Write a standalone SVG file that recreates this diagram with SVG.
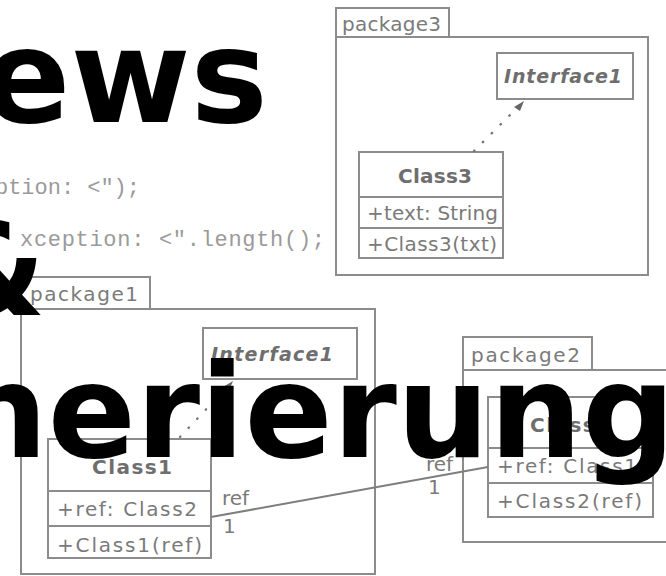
<svg xmlns="http://www.w3.org/2000/svg" width="666" height="576" viewBox="0 0 666 576">
<defs>
<style>
.box{fill:none;stroke:#8c8c8c;stroke-width:2}
.lbl{font-family:"DejaVu Sans",Verdana,sans-serif;font-size:20px;fill:#7a7a7a}
.cls{font-family:"DejaVu Sans",Verdana,sans-serif;font-size:20px;font-weight:bold;fill:#6e6e6e}
.itf{font-family:"DejaVu Sans",Verdana,sans-serif;font-size:19px;font-weight:bold;font-style:italic;fill:#6e6e6e}
.code{font-family:"Liberation Mono","Courier New",monospace;font-size:22px;fill:#9a9a9a}
.dot{fill:none;stroke:#777;stroke-width:2.4;stroke-linecap:round;stroke-dasharray:0.5 12}
.assoc{fill:none;stroke:#7e7e7e;stroke-width:2}
.big{font-family:"DejaVu Sans",Verdana,sans-serif;font-size:130px;font-weight:bold;fill:#000}
</style>
</defs>
<rect width="666" height="576" fill="#fff"/>

<g id="code">
<text class="code" x="-5" y="194" textLength="145">ption: &lt;");</text>
<text class="code" x="20" y="246" textLength="305">xception: &lt;".length();</text>
</g>

<g id="package3">
<rect class="box" x="336" y="8" width="113" height="29"/>
<rect class="box" x="336" y="37" width="312" height="238"/>
<text class="lbl" x="342" y="31" textLength="99">package3</text>
</g>
<g id="interface3">
<rect class="box" x="497" y="53" width="136" height="46"/>
<text class="itf" x="504" y="83" textLength="118">Interface1</text>
</g>
<g id="class3">
<rect class="box" x="359" y="152" width="144" height="106"/>
<line class="box" x1="359" y1="197" x2="503" y2="197"/>
<line class="box" x1="359" y1="228" x2="503" y2="228"/>
<text class="cls" x="398" y="183" textLength="74">Class3</text>
<text class="lbl" x="367" y="220" textLength="131">+text: String</text>
<text class="lbl" x="367" y="251" textLength="130">+Class3(txt)</text>
</g>

<g id="package1">
<rect class="box" x="21" y="277" width="129" height="32"/>
<rect class="box" x="21" y="309" width="354" height="265"/>
<text class="lbl" x="30" y="301" textLength="108">package1</text>
</g>
<g id="interface1">
<rect class="box" x="203" y="328" width="154" height="51"/>
<text class="itf" x="211" y="361" textLength="122">Interface1</text>
</g>
<g id="class1">
<rect class="box" x="48" y="439" width="163" height="119"/>
<line class="box" x1="48" y1="491" x2="211" y2="491"/>
<line class="box" x1="48" y1="526" x2="211" y2="526"/>
<text class="cls" x="92" y="474" textLength="80">Class1</text>
<text class="lbl" x="57" y="516" textLength="140">+ref: Class2</text>
<text class="lbl" x="57" y="552" textLength="145">+Class1(ref)</text>
</g>

<g id="package2">
<rect class="box" x="463" y="337" width="129" height="33"/>
<rect class="box" x="463" y="370" width="215" height="172"/>
<text class="lbl" x="471" y="362" textLength="109">package2</text>
</g>
<g id="class2">
<rect class="box" x="488" y="397" width="165" height="120"/>
<line class="box" x1="488" y1="448" x2="653" y2="448"/>
<line class="box" x1="488" y1="483" x2="653" y2="483"/>
<text class="cls" x="530" y="432" textLength="80">Class2</text>
<text class="lbl" x="497" y="473" textLength="140">+ref: Class1</text>
<text class="lbl" x="497" y="508" textLength="145">+Class2(ref)</text>
</g>

<g id="connectors">
<line class="dot" x1="474" y1="151" x2="521" y2="104"/>
<path d="M514,107 L524,101 L520,111 z" fill="#666"/>
<line class="dot" x1="180" y1="437" x2="230" y2="384"/>
<path d="M223,387 L233,381 L229,391 z" fill="#666"/>
<line class="assoc" x1="211" y1="517" x2="488" y2="467"/>
<text class="lbl" x="222" y="505" font-size="19">ref</text>
<text class="lbl" x="223" y="533" font-size="19">1</text>
<text class="lbl" x="426" y="471" font-size="19">ref</text>
<text class="lbl" x="428" y="494" font-size="19">1</text>
</g>

<g id="title">
<text class="big" x="268" y="122" text-anchor="end">ews</text>
<text class="big" x="46" y="315" text-anchor="end">&amp;</text>
<text class="big" x="675" y="457" text-anchor="end">nerierung</text>
</g>
</svg>
